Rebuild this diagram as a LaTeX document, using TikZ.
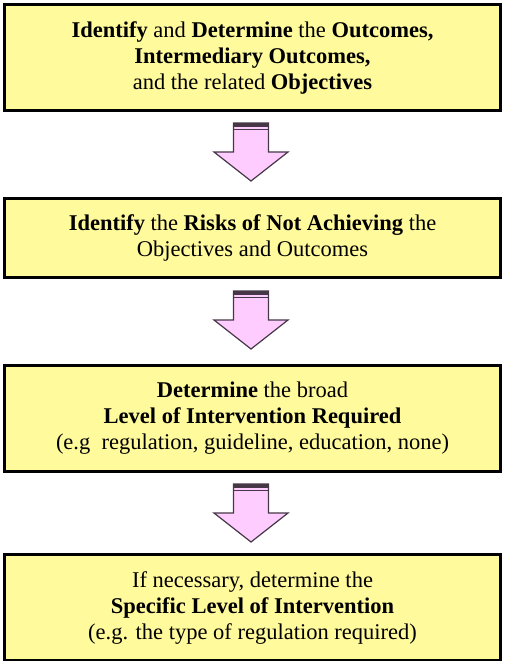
\documentclass[tikz,border=0pt]{standalone}
\usepackage{fontspec}
\setmainfont{Liberation Serif}
\definecolor{boxfill}{RGB}{255,250,155}
\definecolor{arrfill}{RGB}{255,204,255}
\definecolor{arrline}{RGB}{70,55,70}
\tikzset{
  stepbox/.style={draw=black, line width=3pt, fill=boxfill, minimum width=496pt,
    align=center, inner sep=0pt, font=\fontsize{22.5}{26}\selectfont},
  blockarrow/.style={fill=arrfill, draw=arrline, line width=1.2pt, line join=miter},
}
\begin{document}
\begin{tikzpicture}[x=1pt,y=-1pt]
\useasboundingbox (0,0) rectangle (505,661);
\node[stepbox, minimum height=106pt] (b1) at (252.5,57.5)
  {\textbf{Identify} and \textbf{Determine} the \textbf{Outcomes,}\\
   \textbf{Intermediary Outcomes,}\\
   and the related \textbf{Objectives}};
\node[stepbox, minimum height=79pt] (b2) at (252.5,238)
  {\textbf{Identify} the \textbf{Risks of Not Achieving} the\\
   Objectives and Outcomes};
\node[stepbox, minimum height=106pt] (b3) at (252.5,418.5)
  {\textbf{Determine} the broad\\
   \textbf{Level of Intervention Required}\\
   (e.g\ \ regulation, guideline, education, none)};
\node[stepbox, minimum height=106pt] (b4) at (252.5,607.5)
  {If necessary, determine the\\
   \textbf{Specific Level of Intervention}\\
   (e.g. the type of regulation required)};
\foreach \t in {123,291,484}{
  \draw[blockarrow] (233.5,\t) -- (268.5,\t) -- (268.5,\t+29) -- (288,\t+29)
     -- (251,\t+58) -- (214,\t+29) -- (233.5,\t+29) -- cycle;
  \fill[arrline] (233.5,\t) rectangle (268.5,\t+4);
  \draw[arrline, line width=1.2pt] (233.5,\t+6.5) -- (268.5,\t+6.5);
}
\end{tikzpicture}
\end{document}
